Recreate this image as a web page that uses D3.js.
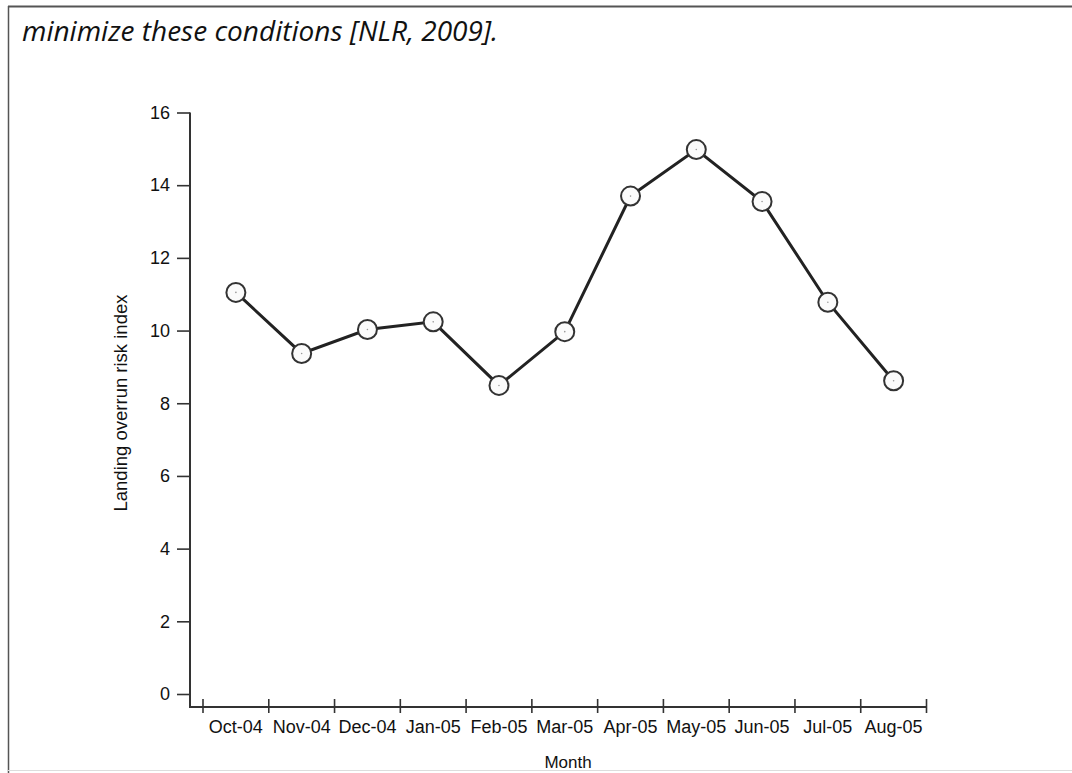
<!DOCTYPE html>
<html><head><meta charset="utf-8">
<script src="https://cdn.jsdelivr.net/npm/d3@7"></script>
<style>html,body{margin:0;padding:0;background:#fff;}svg{display:block;}</style>
</head><body>
<svg id="c" width="1072" height="773"></svg>
<script>
const months = ["Oct-04","Nov-04","Dec-04","Jan-05","Feb-05","Mar-05","Apr-05","May-05","Jun-05","Jul-05","Aug-05"];
const riskIndex = [11.05,9.37,10.03,10.24,8.49,9.97,13.7,14.98,13.55,10.78,8.62];
const yTicks = [0,2,4,6,8,10,12,14,16];
const caption = "minimize these conditions [NLR, 2009].";
const yTitle = "Landing overrun risk index";
const xTitle = "Month";

const svg = d3.select("#c");
const font = "'Liberation Sans', Arial, sans-serif";

// page frame
svg.append("line").attr("x1",8).attr("x2",1072).attr("y1",6.5).attr("y2",6.5).attr("stroke","#555").attr("stroke-width",2);
svg.append("line").attr("x1",8.5).attr("x2",8.5).attr("y1",6).attr("y2",773).attr("stroke","#555").attr("stroke-width",1.5);
svg.append("line").attr("x1",8).attr("x2",1072).attr("y1",770.5).attr("y2",770.5).attr("stroke","#ddd").attr("stroke-width",1);

svg.append("text").attr("x",22).attr("y",41).attr("font-family","'Open Sans', Lato, sans-serif")
  .attr("font-style","italic").attr("font-size",28).attr("fill","#111").text(caption);

const x = d3.scaleBand().domain(months).range([203,926.5]).paddingInner(0).paddingOuter(0);
const y = d3.scaleLinear().domain([0,16]).range([694,112.5]);
const axisY = 707;
const yAxisX = 190;

// y axis
const gy = svg.append("g").attr("transform",`translate(${yAxisX},0)`)
  .call(d3.axisLeft(y).tickValues(yTicks).tickSize(13).tickPadding(7).tickFormat(d3.format("d")));
gy.select(".domain").remove();
gy.selectAll(".tick line").attr("stroke","#333").attr("stroke-width",1.6);
gy.selectAll(".tick text").attr("font-family",font).attr("font-size",18).attr("fill","#111");
svg.append("line").attr("x1",yAxisX).attr("x2",yAxisX).attr("y1",y(16)).attr("y2",axisY+1)
  .attr("stroke","#333").attr("stroke-width",2);

// x axis
svg.append("line").attr("x1",yAxisX).attr("x2",x.range()[1]).attr("y1",axisY).attr("y2",axisY)
  .attr("stroke","#333").attr("stroke-width",2);
const tickPos = months.map(m => x(m)).concat([x.range()[1]]);
svg.append("g").selectAll("line").data(tickPos).join("line")
  .attr("x1",d=>d).attr("x2",d=>d).attr("y1",axisY-8).attr("y2",axisY+6)
  .attr("stroke","#333").attr("stroke-width",1.6);
svg.append("g").selectAll("text").data(months).join("text")
  .attr("x",d=>x(d)+x.bandwidth()/2).attr("y",axisY+26).attr("text-anchor","middle")
  .attr("font-family",font).attr("font-size",18).attr("fill","#111").text(d=>d);

// titles
svg.append("text").attr("transform",`translate(127,403) rotate(-90)`)
  .attr("text-anchor","middle").attr("font-family",font).attr("font-size",18.5).attr("fill","#111").text(yTitle);
svg.append("text").attr("x",568).attr("y",768).attr("text-anchor","middle")
  .attr("font-family",font).attr("font-size",17).attr("fill","#111").text(xTitle);

// line
const pts = months.map((m,i)=>({m, v:riskIndex[i]}));
svg.append("path").datum(pts)
  .attr("d", d3.line().x(d=>x(d.m)+x.bandwidth()/2).y(d=>y(d.v)))
  .attr("fill","none").attr("stroke","#222").attr("stroke-width",3);
svg.append("g").selectAll("circle").data(pts).join("circle")
  .attr("cx",d=>x(d.m)+x.bandwidth()/2).attr("cy",d=>y(d.v)).attr("r",9.5)
  .attr("fill","#fbfbfb").attr("stroke","#333").attr("stroke-width",2);
svg.append("g").selectAll("circle").data(pts).join("circle")
  .attr("cx",d=>x(d.m)+x.bandwidth()/2).attr("cy",d=>y(d.v)).attr("r",0.8)
  .attr("fill","#999");
</script>
</body></html>
